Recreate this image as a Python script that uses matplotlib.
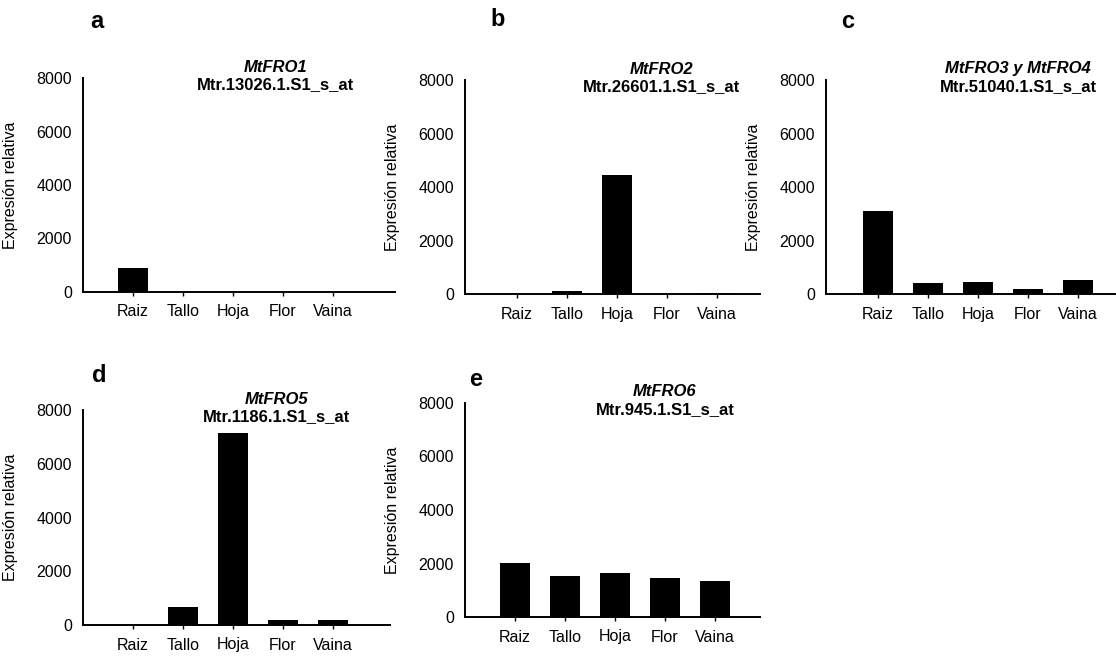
import matplotlib
matplotlib.use("Agg")
import matplotlib.pyplot as plt

plt.rcParams["font.family"] = ["Liberation Sans", "DejaVu Sans"]

#### Data

categories = ["Raiz", "Tallo", "Hoja", "Flor", "Vaina"]

fro1 = [900, 0, 0, 0, 0]
fro2 = [10, 100, 4450, 10, 50]
fro3_4 = [3100, 420, 460, 190, 520]
fro5 = [0, 680, 7150, 190, 190]
fro6 = [2010, 1540, 1640, 1450, 1350]

panel_letters = ["a", "b", "c", "d", "e"]
gene_names = ["MtFRO1", "MtFRO2", "MtFRO3 y MtFRO4", "MtFRO5", "MtFRO6"]
probe_ids = ["Mtr.13026.1.S1_s_at", "Mtr.26601.1.S1_s_at", "Mtr.51040.1.S1_s_at",
             "Mtr.1186.1.S1_s_at", "Mtr.945.1.S1_s_at"]
series = [fro1, fro2, fro3_4, fro5, fro6]

y_ticks = [0, 2000, 4000, 6000, 8000]
y_label = "Expresión relativa"

#### Layout (pixels in a 1116x656 figure)

W, H = 1116, 656
# left, right, top, bottom, x of first category
boxes = [
    (83, 395, 78, 292, 133),
    (465, 760, 80, 294, 517),
    (826, 1116, 80, 294, 878),
    (83, 390, 410, 625, 133),
    (465, 760, 403, 617, 515),
]
step = 50.0  # pixels between categories
letter_pos = [(97, 21), (498, 20), (848, 21), (99, 376), (476, 380)]
title_x = [276, 662, 1018, 277, 665]

fig = plt.figure(figsize=(W / 100, H / 100), dpi=100)

for i, vals in enumerate(series):
    left, right, top, bottom, x0 = boxes[i]
    ax = fig.add_axes([left / W, 1 - bottom / H, (right - left) / W, (bottom - top) / H])
    pos = list(range(len(categories)))
    ax.bar(pos, vals, width=0.6, color="black", edgecolor="black", linewidth=0)

    ax.set_xlim((left - x0) / step, (right - x0) / step)
    ax.set_ylim(0, 8000)
    ax.set_yticks(y_ticks)
    ax.set_yticklabels([str(t) for t in y_ticks])
    ax.set_xticks(pos)
    ax.set_xticklabels(categories)

    for s in ["top", "right"]:
        ax.spines[s].set_visible(False)
    for s in ["left", "bottom"]:
        ax.spines[s].set_linewidth(1.4)
    ax.tick_params(axis="y", length=0, pad=8, labelsize=11.5)
    ax.tick_params(axis="x", length=3, width=1, direction="out", pad=6, labelsize=11.5)

    ax.set_ylabel(y_label, fontsize=11.5)
    ax.yaxis.set_label_coords(-65.0 / (right - left), 0.5)

    # title: gene name (italic) over probe id
    tx = title_x[i] / W
    fig.text(tx, 1 - (top - 11) / H, gene_names[i], ha="center", va="center",
             fontsize=12, fontweight="bold", fontstyle="italic")
    fig.text(tx, 1 - (top + 7) / H, probe_ids[i], ha="center", va="center",
             fontsize=12, fontweight="bold")

    lx, ly = letter_pos[i]
    fig.text(lx / W, 1 - ly / H, panel_letters[i], ha="center", va="center",
             fontsize=17, fontweight="bold")

fig.savefig("out.png", dpi=100)
